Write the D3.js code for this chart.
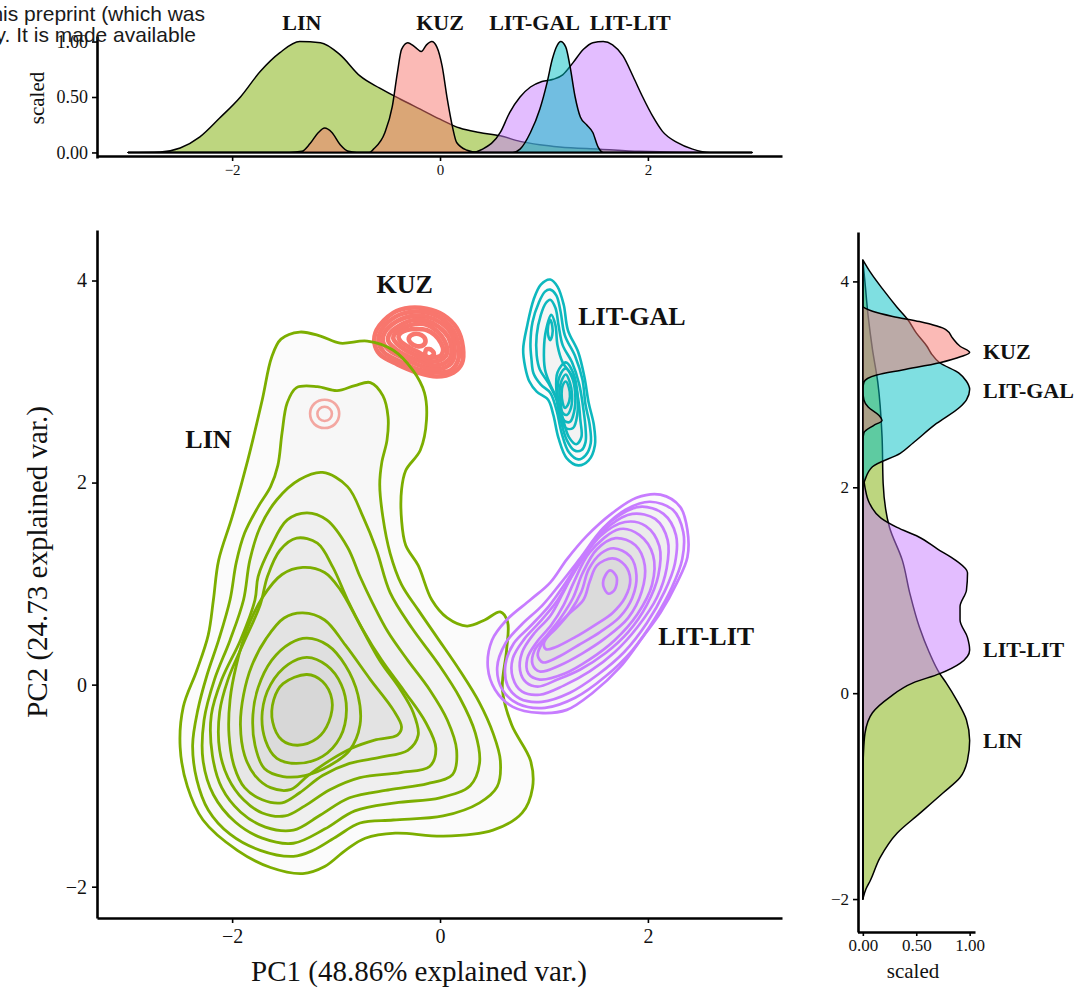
<!DOCTYPE html>
<html><head><meta charset="utf-8">
<script src="https://cdn.jsdelivr.net/npm/d3@7"></script>
<style>body{margin:0;background:#fff}svg{display:block}</style>
</head><body>
<svg id="c" width="1079" height="996"></svg>
<script>
// ---------- data ----------
const groups = ["LIN","KUZ","LIT-GAL","LIT-LIT"];
const groupColors = {"KUZ":"#F8766D","LIN":"#7CAE00","LIT-GAL":"#00BFC4","LIT-LIT":"#C77CFF"};
const pcTicksX = [-2,0,2];
const pcTicksY = [-2,0,2,4];
const scaledTicks = [0,0.5,1];

// top marginal densities: [PC1, scaled density]
const topLIN = [[-3,0],[-2.69,0.005],[-2.5,0.04],[-2.31,0.14],[-2.12,0.31],[-1.92,0.5],[-1.73,0.73],[-1.54,0.9],[-1.35,1.0],[-1.15,0.99],[-0.96,0.88],[-0.77,0.69],[-0.58,0.58],[-0.38,0.48],[-0.19,0.39],[0,0.3],[0.19,0.22],[0.38,0.18],[0.58,0.15],[0.77,0.1],[0.96,0.07],[1.15,0.05],[1.54,0.03],[1.92,0.01],[2.5,0],[3,0]];
const topKUZ = [[-3,0],[-1.45,0],[-1.33,0.01],[-1.25,0.08],[-1.17,0.18],[-1.11,0.22],[-1.04,0.18],[-0.96,0.07],[-0.88,0.01],[-0.8,0],[-0.68,0],[-0.64,0.03],[-0.53,0.18],[-0.46,0.41],[-0.41,0.72],[-0.37,0.93],[-0.31,0.99],[-0.24,0.95],[-0.18,0.91],[-0.13,0.97],[-0.08,1.0],[-0.03,0.95],[0.02,0.78],[0.07,0.48],[0.12,0.23],[0.16,0.09],[0.26,0.02],[0.36,0],[3,0]];
const topLITGAL = [[-3,0],[0.7,0],[0.77,0.03],[0.87,0.18],[0.96,0.39],[1.03,0.63],[1.08,0.84],[1.13,0.97],[1.16,1.0],[1.21,0.95],[1.25,0.78],[1.3,0.5],[1.35,0.32],[1.41,0.25],[1.47,0.18],[1.52,0.05],[1.57,0],[3,0]];
const topLITLIT = [[-3,0],[0.3,0],[0.41,0.03],[0.58,0.18],[0.67,0.36],[0.77,0.5],[0.87,0.59],[0.98,0.64],[1.09,0.66],[1.18,0.7],[1.28,0.81],[1.38,0.93],[1.47,0.99],[1.57,1.0],[1.66,0.97],[1.76,0.87],[1.86,0.68],[1.95,0.5],[2.05,0.32],[2.14,0.19],[2.28,0.09],[2.43,0.03],[2.6,0],[3,0]];

// right marginal densities: [PC2, scaled density]
const rightLIN = [[-2.0,0],[-1.9,0.03],[-1.82,0.07],[-1.6,0.16],[-1.36,0.32],[-1.17,0.53],[-0.97,0.75],[-0.82,0.91],[-0.65,0.98],[-0.46,1.0],[-0.26,0.97],[-0.07,0.88],[0.1,0.78],[0.19,0.72],[0.4,0.62],[0.64,0.53],[0.97,0.44],[1.29,0.37],[1.61,0.25],[2.04,0.19],[2.49,0.18],[3.02,0.14],[3.34,0.09],[3.66,0.05],[3.99,0.02],[4.2,0]];
const rightKUZ = [[-2.0,0],[2.45,0],[2.53,0.01],[2.6,0.1],[2.65,0.18],[2.7,0.15],[2.78,0.05],[2.85,0.01],[2.95,0],[3.02,0.01],[3.09,0.13],[3.14,0.37],[3.21,0.72],[3.27,0.92],[3.31,1.0],[3.37,0.91],[3.45,0.84],[3.53,0.78],[3.61,0.53],[3.66,0.28],[3.71,0.09],[3.76,0],[4.2,0]];
const rightLITGAL = [[-2.0,0],[2.0,0],[2.07,0.02],[2.2,0.09],[2.33,0.35],[2.43,0.47],[2.62,0.69],[2.78,0.91],[2.85,0.97],[2.95,1.0],[3.03,0.97],[3.11,0.9],[3.21,0.72],[3.3,0.64],[3.37,0.6],[3.5,0.5],[3.63,0.42],[3.75,0.32],[3.92,0.19],[4.09,0.07],[4.21,0]];
const rightLITLIT = [[-2.0,0],[-0.8,0],[-0.6,0.005],[-0.39,0.02],[-0.19,0.09],[-0.04,0.25],[0.10,0.47],[0.19,0.72],[0.29,0.91],[0.42,1.0],[0.54,0.98],[0.71,0.91],[0.84,0.91],[1.0,0.97],[1.17,0.98],[1.29,0.87],[1.4,0.7],[1.52,0.52],[1.61,0.32],[1.7,0.17],[1.85,0.06],[2.0,0.02],[2.2,0],[4.2,0]];

// 2D density contour rings (PC1, PC2), outermost first
const linRings = [
 [[-1.35,3.49],[-1.15,3.45],[-0.96,3.38],[-0.70,3.40],[-0.45,3.31],[-0.26,3.11],[-0.15,2.89],[-0.13,2.62],[-0.19,2.32],[-0.33,2.12],[-0.37,1.93],[-0.37,1.63],[-0.33,1.38],[-0.21,1.18],[-0.08,0.84],[0.07,0.66],[0.26,0.58],[0.43,0.64],[0.58,0.72],[0.65,0.62],[0.64,0.34],[0.60,-0.05],[0.69,-0.40],[0.87,-0.75],[0.89,-1.02],[0.79,-1.27],[0.51,-1.44],[0.03,-1.50],[-0.43,-1.47],[-0.72,-1.52],[-0.91,-1.64],[-1.11,-1.80],[-1.32,-1.87],[-1.63,-1.81],[-1.95,-1.64],[-2.28,-1.34],[-2.43,-1.01],[-2.50,-0.62],[-2.47,-0.22],[-2.34,0.14],[-2.23,0.49],[-2.18,0.84],[-2.13,1.23],[-2.0,1.66],[-1.85,2.22],[-1.71,2.82],[-1.62,3.24],[-1.53,3.42]],
 [[-1.38,2.94],[-1.18,2.95],[-0.99,2.91],[-0.82,2.96],[-0.67,2.99],[-0.55,2.86],[-0.50,2.65],[-0.51,2.42],[-0.56,2.20],[-0.58,1.98],[-0.55,1.66],[-0.48,1.30],[-0.37,0.99],[-0.21,0.74],[-0.03,0.47],[0.19,0.14],[0.38,-0.18],[0.51,-0.48],[0.58,-0.75],[0.55,-1.01],[0.38,-1.17],[0.03,-1.30],[-0.45,-1.34],[-0.77,-1.37],[-0.99,-1.50],[-1.22,-1.64],[-1.41,-1.70],[-1.73,-1.64],[-2.02,-1.48],[-2.23,-1.24],[-2.34,-0.94],[-2.38,-0.60],[-2.33,-0.25],[-2.24,0.10],[-2.13,0.44],[-2.02,0.84],[-1.96,1.21],[-1.88,1.50],[-1.75,1.76],[-1.63,1.96],[-1.56,2.17],[-1.52,2.49],[-1.47,2.79]],
 [[-1.13,2.10],[-0.89,1.96],[-0.74,1.66],[-0.61,1.33],[-0.48,0.91],[-0.27,0.56],[-0.02,0.21],[0.19,-0.13],[0.34,-0.48],[0.38,-0.78],[0.29,-1.00],[0.0,-1.12],[-0.43,-1.17],[-0.82,-1.25],[-1.11,-1.43],[-1.41,-1.57],[-1.71,-1.52],[-1.97,-1.36],[-2.18,-1.09],[-2.28,-0.75],[-2.27,-0.35],[-2.17,0.05],[-2.02,0.44],[-1.89,0.84],[-1.83,1.23],[-1.73,1.56],[-1.57,1.83],[-1.35,2.03]],
 [[-1.28,1.70],[-1.09,1.63],[-0.89,1.36],[-0.77,1.07],[-0.65,0.81],[-0.50,0.52],[-0.31,0.24],[-0.10,-0.05],[0.07,-0.35],[0.16,-0.65],[0.12,-0.89],[-0.12,-0.98],[-0.48,-1.04],[-0.87,-1.12],[-1.15,-1.29],[-1.41,-1.44],[-1.68,-1.41],[-1.92,-1.26],[-2.10,-1.02],[-2.19,-0.70],[-2.20,-0.30],[-2.10,0.05],[-1.92,0.44],[-1.78,0.84],[-1.75,1.07],[-1.63,1.36],[-1.47,1.63]],
 [[-1.38,1.45],[-1.18,1.40],[-1.03,1.16],[-0.89,0.84],[-0.74,0.54],[-0.56,0.24],[-0.34,-0.07],[-0.14,-0.37],[-0.04,-0.63],[-0.10,-0.81],[-0.38,-0.87],[-0.77,-0.92],[-1.06,-1.04],[-1.30,-1.20],[-1.49,-1.30],[-1.71,-1.27],[-1.89,-1.14],[-2.04,-0.92],[-2.12,-0.65],[-2.12,-0.27],[-2.04,0.05],[-1.90,0.39],[-1.73,0.79],[-1.66,1.07],[-1.54,1.33]],
 [[-1.32,1.16],[-1.11,1.11],[-0.96,0.94],[-0.77,0.59],[-0.58,0.24],[-0.38,-0.05],[-0.26,-0.27],[-0.21,-0.50],[-0.31,-0.65],[-0.58,-0.72],[-0.87,-0.78],[-1.13,-0.90],[-1.35,-1.07],[-1.52,-1.17],[-1.71,-1.14],[-1.88,-1.02],[-1.98,-0.81],[-2.03,-0.50],[-2.02,-0.15],[-1.96,0.19],[-1.86,0.54],[-1.71,0.86],[-1.52,1.09]],
 [[-1.32,0.71],[-1.11,0.64],[-0.91,0.39],[-0.67,0.05],[-0.45,-0.25],[-0.37,-0.42],[-0.41,-0.50],[-0.63,-0.55],[-0.85,-0.63],[-1.06,-0.75],[-1.27,-0.90],[-1.44,-1.04],[-1.63,-1.02],[-1.78,-0.90],[-1.88,-0.70],[-1.92,-0.40],[-1.89,-0.10],[-1.81,0.19],[-1.67,0.46],[-1.50,0.66]],
 [[-1.28,0.46],[-1.08,0.39],[-0.91,0.19],[-0.79,-0.10],[-0.77,-0.40],[-0.87,-0.65],[-1.06,-0.80],[-1.30,-0.90],[-1.51,-0.91],[-1.69,-0.83],[-1.78,-0.60],[-1.80,-0.30],[-1.75,-0.03],[-1.62,0.24],[-1.44,0.41]],
 [[-1.28,0.27],[-1.09,0.19],[-0.95,0.0],[-0.90,-0.25],[-0.96,-0.52],[-1.13,-0.71],[-1.38,-0.78],[-1.57,-0.73],[-1.68,-0.55],[-1.71,-0.27],[-1.63,0.0],[-1.46,0.20]],
 [[-1.28,0.10],[-1.13,0.03],[-1.04,-0.15],[-1.07,-0.37],[-1.18,-0.53],[-1.37,-0.60],[-1.52,-0.55],[-1.61,-0.37],[-1.60,-0.15],[-1.51,0.01]]
];
const kuzRings = [
 [[-0.29,3.73],[-0.13,3.72],[0.03,3.66],[0.16,3.53],[0.22,3.34],[0.21,3.18],[0.13,3.09],[-0.03,3.05],[-0.22,3.09],[-0.41,3.17],[-0.58,3.27],[-0.63,3.38],[-0.61,3.51],[-0.45,3.68]],
 [[-0.27,3.69],[-0.12,3.68],[0.02,3.62],[0.13,3.50],[0.18,3.34],[0.17,3.20],[0.10,3.11],[-0.04,3.09],[-0.21,3.12],[-0.39,3.20],[-0.54,3.29],[-0.59,3.39],[-0.57,3.50],[-0.43,3.64]],
 [[-0.26,3.65],[-0.12,3.64],[0.01,3.58],[0.11,3.47],[0.14,3.34],[0.13,3.22],[0.07,3.15],[-0.05,3.12],[-0.20,3.16],[-0.37,3.24],[-0.50,3.32],[-0.55,3.40],[-0.53,3.49],[-0.41,3.60]],
 [[-0.25,3.61],[-0.12,3.60],[-0.01,3.54],[0.08,3.44],[0.11,3.33],[0.10,3.24],[0.04,3.18],[-0.07,3.16],[-0.19,3.20],[-0.35,3.27],[-0.46,3.35],[-0.50,3.41],[-0.48,3.48],[-0.38,3.56]],
 [[-0.24,3.57],[-0.12,3.56],[-0.03,3.50],[0.04,3.41],[0.07,3.32],[0.06,3.26],[0.0,3.21],[-0.09,3.20],[-0.19,3.24],[-0.33,3.31],[-0.42,3.38],[-0.45,3.43],[-0.43,3.48],[-0.36,3.53]],
 [[-0.23,3.52],[-0.13,3.51],[-0.05,3.46],[0.01,3.38],[0.03,3.31],[0.01,3.26],[-0.04,3.24],[-0.12,3.24],[-0.19,3.28],[-0.30,3.34],[-0.38,3.40],[-0.40,3.44],[-0.38,3.48],[-0.32,3.51]],
 [[-0.25,3.47],[-0.18,3.46],[-0.14,3.41],[-0.16,3.36],[-0.22,3.35],[-0.28,3.38],[-0.30,3.43]],
 [[-0.13,3.32],[-0.08,3.31],[-0.06,3.27],[-0.10,3.24],[-0.14,3.26]]
];
const kuzMinorRings = [
 [[-1.11,2.82],[-1.01,2.78],[-0.97,2.68],[-1.01,2.58],[-1.11,2.54],[-1.21,2.58],[-1.25,2.68],[-1.21,2.78]],
 [[-1.11,2.75],[-1.06,2.73],[-1.04,2.68],[-1.06,2.63],[-1.11,2.61],[-1.16,2.63],[-1.18,2.68],[-1.16,2.73]]
];
const litgalRings = [
 [[1.06,4.01],[1.13,3.94],[1.19,3.76],[1.23,3.51],[1.33,3.29],[1.39,3.04],[1.43,2.79],[1.48,2.57],[1.49,2.37],[1.43,2.22],[1.33,2.17],[1.22,2.24],[1.14,2.44],[1.09,2.67],[1.04,2.82],[0.93,2.90],[0.86,3.00],[0.82,3.14],[0.80,3.32],[0.84,3.56],[0.90,3.81],[0.97,3.96]],
 [[1.06,3.91],[1.12,3.85],[1.16,3.69],[1.20,3.46],[1.30,3.25],[1.37,3.02],[1.40,2.77],[1.44,2.57],[1.45,2.39],[1.40,2.27],[1.33,2.23],[1.24,2.30],[1.17,2.49],[1.12,2.72],[1.06,2.89],[0.97,2.97],[0.90,3.08],[0.88,3.22],[0.87,3.37],[0.89,3.59],[0.95,3.78],[1.01,3.89]],
 [[1.06,3.81],[1.11,3.73],[1.14,3.56],[1.18,3.36],[1.27,3.19],[1.34,2.97],[1.38,2.72],[1.40,2.54],[1.40,2.40],[1.36,2.32],[1.29,2.32],[1.22,2.42],[1.16,2.62],[1.12,2.82],[1.04,2.99],[0.96,3.12],[0.93,3.26],[0.93,3.46],[0.97,3.66],[1.02,3.78]],
 [[1.07,3.66],[1.11,3.56],[1.13,3.36],[1.18,3.19],[1.28,3.04],[1.33,2.82],[1.35,2.62],[1.36,2.45],[1.31,2.38],[1.24,2.45],[1.18,2.64],[1.13,2.82],[1.06,2.97],[1.01,3.12],[1.00,3.32],[1.02,3.51]],
 [[1.21,3.19],[1.28,3.09],[1.32,2.90],[1.32,2.67],[1.28,2.54],[1.21,2.54],[1.15,2.68],[1.12,2.90],[1.13,3.09]],
 [[1.21,3.13],[1.27,3.04],[1.30,2.89],[1.29,2.70],[1.25,2.60],[1.20,2.61],[1.15,2.72],[1.13,2.89],[1.15,3.05]],
 [[1.21,3.07],[1.25,2.99],[1.27,2.87],[1.26,2.74],[1.22,2.67],[1.18,2.69],[1.16,2.79],[1.15,2.91],[1.17,3.01]],
 [[1.21,3.00],[1.24,2.94],[1.25,2.85],[1.23,2.77],[1.20,2.74],[1.18,2.79],[1.17,2.88],[1.18,2.96]],
 [[1.06,3.61],[1.08,3.55],[1.08,3.46],[1.06,3.41],[1.04,3.46],[1.04,3.55]]
];
const litlitRings = [
 [[2.12,1.88],[2.31,1.76],[2.38,1.53],[2.38,1.26],[2.28,1.01],[2.12,0.71],[1.95,0.47],[1.73,0.17],[1.47,-0.08],[1.22,-0.25],[0.96,-0.28],[0.70,-0.22],[0.53,-0.05],[0.46,0.17],[0.50,0.44],[0.64,0.64],[0.87,0.84],[1.06,1.01],[1.22,1.24],[1.41,1.47],[1.66,1.70],[1.89,1.85]],
 [[2.02,1.81],[2.24,1.73],[2.34,1.51],[2.33,1.24],[2.23,0.96],[2.07,0.66],[1.85,0.34],[1.59,0.08],[1.30,-0.13],[1.01,-0.23],[0.75,-0.19],[0.60,-0.05],[0.55,0.17],[0.63,0.41],[0.79,0.60],[0.98,0.78],[1.15,0.99],[1.34,1.24],[1.57,1.55],[1.80,1.74]],
 [[1.92,1.76],[2.15,1.69],[2.27,1.48],[2.26,1.20],[2.16,0.92],[1.99,0.61],[1.77,0.32],[1.52,0.10],[1.25,-0.08],[0.98,-0.17],[0.77,-0.14],[0.65,-0.01],[0.63,0.20],[0.71,0.41],[0.88,0.59],[1.05,0.78],[1.21,1.01],[1.40,1.31],[1.65,1.62]],
 [[1.85,1.69],[2.07,1.64],[2.19,1.43],[2.18,1.15],[2.09,0.87],[1.90,0.57],[1.68,0.32],[1.44,0.13],[1.19,-0.01],[0.96,-0.10],[0.79,-0.07],[0.70,0.07],[0.70,0.26],[0.81,0.45],[0.96,0.62],[1.12,0.82],[1.26,1.06],[1.45,1.36],[1.64,1.58]],
 [[1.78,1.61],[1.98,1.57],[2.11,1.37],[2.10,1.08],[1.99,0.79],[1.81,0.52],[1.59,0.31],[1.35,0.15],[1.13,0.05],[0.94,-0.02],[0.83,0.02],[0.77,0.14],[0.79,0.32],[0.90,0.50],[1.06,0.68],[1.18,0.90],[1.33,1.19],[1.54,1.47]],
 [[1.73,1.54],[1.92,1.48],[2.05,1.28],[2.04,0.99],[1.90,0.70],[1.68,0.44],[1.44,0.25],[1.20,0.11],[0.96,0.05],[0.85,0.11],[0.84,0.26],[0.93,0.42],[1.07,0.59],[1.19,0.79],[1.29,1.02],[1.44,1.31]],
 [[1.69,1.45],[1.88,1.38],[1.97,1.18],[1.94,0.92],[1.81,0.66],[1.59,0.46],[1.37,0.31],[1.15,0.19],[0.96,0.13],[0.89,0.20],[0.91,0.34],[1.03,0.49],[1.16,0.66],[1.28,0.86],[1.37,1.10],[1.51,1.34]],
 [[1.67,1.35],[1.83,1.27],[1.89,1.08],[1.85,0.86],[1.73,0.67],[1.54,0.52],[1.33,0.39],[1.13,0.27],[0.99,0.22],[0.94,0.29],[0.99,0.42],[1.12,0.56],[1.25,0.72],[1.36,0.92],[1.43,1.14],[1.55,1.30]],
 [[1.66,1.25],[1.78,1.18],[1.83,1.04],[1.78,0.86],[1.66,0.71],[1.49,0.59],[1.30,0.47],[1.11,0.37],[1.02,0.35],[1.00,0.41],[1.07,0.52],[1.23,0.69],[1.38,0.84],[1.44,1.02],[1.51,1.18]],
 [[1.64,1.13],[1.70,1.06],[1.68,0.94],[1.62,0.90],[1.57,0.98],[1.59,1.08]]
];

// ---------- drawing ----------
const serif = '"Liberation Serif","Times New Roman",Times,serif';
const svg = d3.select("#c");
const intFmt = d3.format("d");
const decFmt = d3.format(".2f");

// scales
const x = d3.scaleLinear().domain([-3.3,3.29]).range([97,782]);
const y = d3.scaleLinear().domain([-2.31,4.5]).range([918,230]);
const yTop = d3.scaleLinear().domain([-0.05,1.05]).range([158,36]);
const xR = d3.scaleLinear().domain([-0.05,1.05]).range([857.5,975]);
const yR = d3.scaleLinear().domain([-2.32,4.48]).range([932,232]);

function styleAxis(g, fs, lw){
  g.select(".domain").attr("stroke","#000").attr("stroke-width",lw);
  g.selectAll(".tick line").attr("stroke","#000").attr("stroke-width",1.6);
  g.selectAll(".tick text").attr("fill","#111").style("font-family",serif).style("font-size",fs+"px");
}

// ---- top marginal ----
const topArea = d3.area().x(d=>x(d[0])).y0(yTop(0)).y1(d=>yTop(d[1])).curve(d3.curveMonotoneX);
const topOrder = [["LIN",topLIN],["LIT-LIT",topLITLIT],["LIT-GAL",topLITGAL],["KUZ",topKUZ]];
svg.append("g").selectAll("path").data(topOrder).join("path")
  .attr("d",d=>topArea(d[1])).attr("fill",d=>groupColors[d[0]]).attr("fill-opacity",0.5)
  .attr("stroke","#000").attr("stroke-width",1.5).attr("stroke-linejoin","round");

const gTopX = svg.append("g").attr("transform","translate(0,156)")
  .call(d3.axisBottom(x).tickValues(pcTicksX).tickFormat(intFmt).tickSize(5).tickSizeOuter(0).tickPadding(3));
styleAxis(gTopX,15,2.6);
const gTopY = svg.append("g").attr("transform","translate(97,0)")
  .call(d3.axisLeft(yTop).tickValues(scaledTicks).tickFormat(decFmt).tickSize(5).tickSizeOuter(0).tickPadding(4));
styleAxis(gTopY,18,2.6);
svg.append("text").attr("transform","translate(44,98) rotate(-90)").attr("text-anchor","middle")
  .style("font-family",serif).style("font-size","21px").attr("fill","#111").text("scaled");

const topLabelPos = [["LIN",-1.33],["KUZ",0],["LIT-GAL",0.91],["LIT-LIT",1.83]];
svg.append("g").selectAll("text").data(topLabelPos).join("text")
  .attr("x",d=>x(d[1])).attr("y",30).attr("text-anchor","middle")
  .style("font-family",serif).style("font-size","22px").style("font-weight","bold").attr("fill","#111")
  .text(d=>d[0]);

// ---- main contour plot ----
const ringLine = d3.line().x(d=>x(d[0])).y(d=>y(d[1])).curve(d3.curveCatmullRomClosed.alpha(0.5));
function drawRings(rings, color, sw, fillAlpha, opacity){
  const g = svg.append("g");
  g.selectAll("path.f").data(rings).join("path").attr("class","f")
    .attr("d",ringLine).attr("fill","#000").attr("fill-opacity",fillAlpha).attr("stroke","none");
  g.selectAll("path.s").data(rings).join("path").attr("class","s")
    .attr("d",ringLine).attr("fill","none").attr("stroke",color).attr("stroke-width",sw)
    .attr("stroke-opacity",opacity).attr("stroke-linejoin","round");
}
drawRings(kuzRings, groupColors["KUZ"], 4.6, 0.0, 1);
drawRings(kuzMinorRings, groupColors["KUZ"], 2.6, 0.0, 0.6);
drawRings(linRings, groupColors["LIN"], 2.8, 0.016, 1);
drawRings(litgalRings, "#0DB8BE", 2.6, 0.012, 1);
drawRings(litlitRings, groupColors["LIT-LIT"], 2.7, 0.016, 1);

const gX = svg.append("g").attr("transform","translate(0,918)")
  .call(d3.axisBottom(x).tickValues(pcTicksX).tickFormat(intFmt).tickSize(5).tickSizeOuter(0).tickPadding(6));
styleAxis(gX,20,2.6);
const gY = svg.append("g").attr("transform","translate(97,0)")
  .call(d3.axisLeft(y).tickValues(pcTicksY).tickFormat(intFmt).tickSize(5).tickSizeOuter(0).tickPadding(5));
styleAxis(gY,20,2.6);

svg.append("text").attr("x",419).attr("y",981).attr("text-anchor","middle")
  .style("font-family",serif).style("font-size","29px").attr("fill","#111")
  .text("PC1 (48.86% explained var.)");
svg.append("text").attr("transform","translate(47,562) rotate(-90)").attr("text-anchor","middle")
  .style("font-family",serif).style("font-size","29px").attr("fill","#111")
  .text("PC2 (24.73 explained var.)");

const mainLabels = [["KUZ",-0.61,3.88],["LIT-GAL",1.33,3.56],["LIN",-2.45,2.34],["LIT-LIT",2.10,0.39]];
svg.append("g").selectAll("text").data(mainLabels).join("text")
  .attr("x",d=>x(d[1])).attr("y",d=>y(d[2])).attr("text-anchor","start")
  .style("font-family",serif).style("font-size","26px").style("font-weight","bold").attr("fill","#111")
  .text(d=>d[0]);

// ---- right marginal ----
const rightArea = d3.area().y(d=>yR(d[0])).x0(xR(0)).x1(d=>xR(d[1])).curve(d3.curveMonotoneY);
const rightOrder = [["LIN",rightLIN],["LIT-LIT",rightLITLIT],["LIT-GAL",rightLITGAL],["KUZ",rightKUZ]];
svg.append("g").selectAll("path").data(rightOrder).join("path")
  .attr("d",d=>rightArea(d[1])).attr("fill",d=>groupColors[d[0]]).attr("fill-opacity",0.5)
  .attr("stroke","#000").attr("stroke-width",1.5).attr("stroke-linejoin","round");

const gRX = svg.append("g").attr("transform","translate(0,932)")
  .call(d3.axisBottom(xR).tickValues(scaledTicks).tickFormat(decFmt).tickSize(4).tickSizeOuter(0).tickPadding(3));
styleAxis(gRX,17,2.6);
const gRY = svg.append("g").attr("transform","translate(858,0)")
  .call(d3.axisLeft(yR).tickValues(pcTicksY).tickFormat(intFmt).tickSize(5).tickSizeOuter(0).tickPadding(4));
styleAxis(gRY,17,2.6);
svg.append("text").attr("x",913).attr("y",978).attr("text-anchor","middle")
  .style("font-family",serif).style("font-size","21px").attr("fill","#111").text("scaled");

const rightLabels = [["KUZ",3.25],["LIT-GAL",2.87],["LIT-LIT",0.35],["LIN",-0.53]];
svg.append("g").selectAll("text").data(rightLabels).join("text")
  .attr("x",983).attr("y",d=>yR(d[1])).attr("text-anchor","start")
  .style("font-family",serif).style("font-size","22px").style("font-weight","bold").attr("fill","#111")
  .text(d=>d[0]);

// ---- preprint notice overlapping top-left ----
const notice = ["for this preprint (which was","in perpetuity. It is made available"];
svg.append("g").selectAll("text").data(notice).join("text")
  .attr("x",(d,i)=>i===0?205:196).attr("y",(d,i)=>21+i*21).attr("text-anchor","end")
  .style("font-family",'"Liberation Sans",Arial,Helvetica,sans-serif').style("font-size","21px")
  .attr("fill","#1a1a1a").text(d=>d);
</script>
</body></html>
